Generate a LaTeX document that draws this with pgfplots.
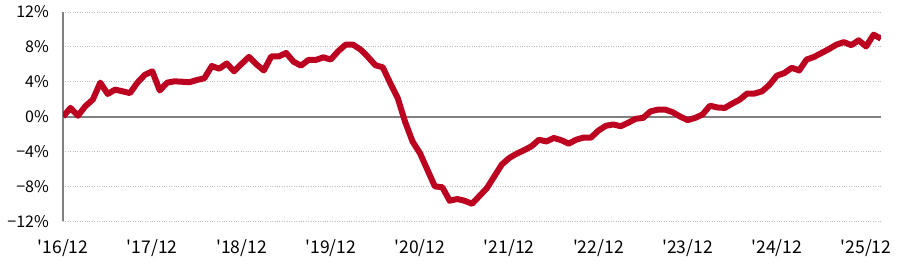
\documentclass[border=0pt]{standalone}
\usepackage{pgfplots}
\pgfplotsset{compat=1.18}
\usepackage{fontspec}
\setmainfont{Noto Sans CJK JP}[Ligatures=TeXOff]
\definecolor{linered}{RGB}{188,4,32}
\definecolor{axgray}{RGB}{128,128,128}
\definecolor{gridgray}{RGB}{190,190,190}
\pgfplotstableread{
m v
0 0.0
1 1.0
2 0.1
3 1.2
4 1.95
5 3.9
6 2.6
7 3.1
8 2.9
9 2.7
10 3.9
11 4.8
12 5.2
13 3.0
14 3.9
15 4.05
16 4.0
17 3.95
18 4.2
19 4.4
20 5.8
21 5.5
22 6.1
23 5.2
24 6.05
25 6.85
26 6.0
27 5.3
28 6.9
29 6.9
30 7.3
31 6.3
32 5.85
33 6.5
34 6.5
35 6.8
36 6.55
37 7.5
38 8.25
39 8.25
40 7.7
41 6.85
42 5.9
43 5.65
44 3.85
45 2.15
46 -0.6
47 -2.85
48 -4.2
49 -6.1
50 -8.0
51 -8.1
52 -9.65
53 -9.45
54 -9.65
55 -10.0
56 -9.1
57 -8.2
58 -6.85
59 -5.5
60 -4.75
61 -4.25
62 -3.85
63 -3.4
64 -2.65
65 -2.85
66 -2.45
67 -2.7
68 -3.1
69 -2.65
70 -2.4
71 -2.4
72 -1.6
73 -1.05
74 -0.9
75 -1.1
76 -0.7
77 -0.25
78 -0.15
79 0.6
80 0.8
81 0.8
82 0.5
83 0.0
84 -0.4
85 -0.15
86 0.25
87 1.25
88 1.05
89 1.0
90 1.5
91 1.95
92 2.65
93 2.65
94 2.9
95 3.65
96 4.7
97 5.0
98 5.6
99 5.3
100 6.55
101 6.85
102 7.3
103 7.75
104 8.25
105 8.55
106 8.2
107 8.75
108 8.05
109 9.4
110 8.95
}\datatable
\begin{document}
\begin{tikzpicture}
\begin{axis}[
  scale only axis, width=817pt, height=209pt,
  xmin=0, xmax=110, ymin=-12, ymax=12,
  axis y line*=left, axis x line*=bottom,
  x axis line style={draw=none},
  y axis line style={draw=axgray, line width=1.6pt, -},
  major tick length=0pt,
  xtick={0,12,24,36,48,60,72,84,96,108},
  xticklabels={'16/12,'17/12,'18/12,'19/12,'20/12,'21/12,'22/12,'23/12,'24/12,'25/12},
  ytick={-12,-8,-4,0,4,8,12},
  yticklabels={−12\%,−8\%,−4\%,0\%,4\%,8\%,12\%},
  ymajorgrids,
  grid style={draw=gridgray, dotted, line width=0.8pt},
  extra y ticks={0},
  extra y tick labels={},
  extra y tick style={grid style={draw=axgray, solid, line width=1.8pt}},
  xticklabel style={font=\fontsize{17.5}{17.5}\selectfont, inner sep=0pt, anchor=north, yshift=-18pt},
  yticklabel style={font=\fontsize{16}{16}\selectfont, inner sep=0pt, anchor=east, xshift=-14pt},
]
\addplot[linered, line width=6pt, line join=round] table[x=m, y=v] {\datatable};
\end{axis}
\pgfresetboundingbox
\path (current axis.south west) ++(-63pt,-45pt) coordinate (a);
\path (current axis.north east) ++(19pt,12pt) coordinate (b);
\path (a) rectangle (b);
\end{tikzpicture}
\end{document}
